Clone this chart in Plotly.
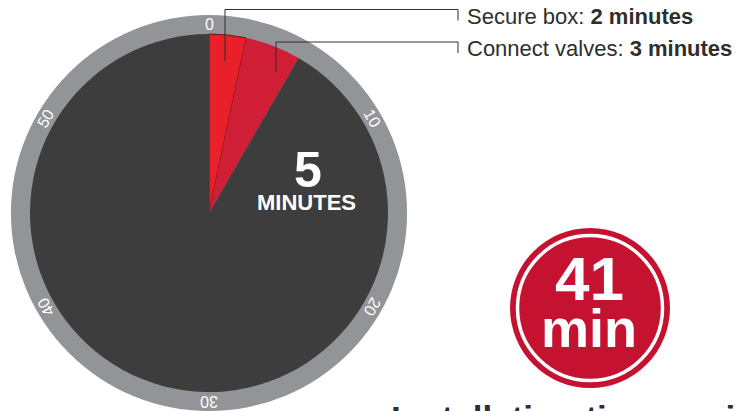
import math
import plotly.graph_objects as go

# ---------------- data ----------------
task_labels = ["Secure box", "Connect valves"]
task_minutes = [2, 3]
clock_minutes = 60
clock_ticks = [0, 10, 20, 30, 40, 50]
total_install_minutes = 41
title_text = "Installation time savings"

# ---------------- styling ----------------
W, H = 743, 411
RED1 = "#E91F2A"
RED2 = "#D01E36"
DARK = "#3D3D3D"
RING = "#929497"
BADGE = "#C41230"
TXT = "#2E2E2E"
FONT = "Liberation Sans, Arial, sans-serif"

cx, cy = 209, 213      # clock centre (px)
R_OUT, R_IN = 198, 179


def X(px):
    return px / W


def Y(py):
    return 1 - py / H


rest = clock_minutes - sum(task_minutes)
slice_vals = task_minutes + [rest]

fig = go.Figure()

# outer grey ring (full clock face)
fig.add_trace(go.Pie(
    values=[clock_minutes], labels=["clock"],
    marker=dict(colors=[RING], line=dict(width=0)),
    domain=dict(x=[X(cx - R_OUT), X(cx + R_OUT)], y=[Y(cy + R_OUT), Y(cy - R_OUT)]),
    textinfo="none", hoverinfo="skip", sort=False, showlegend=False,
))

# inner face with task slices
fig.add_trace(go.Pie(
    values=slice_vals, labels=task_labels + ["rest"],
    marker=dict(colors=[RED1, RED2, DARK],
                line=dict(width=[1, 0, 0], color=["#5a1a1a", DARK, DARK])),
    domain=dict(x=[X(cx - R_IN), X(cx + R_IN)], y=[Y(cy + R_IN), Y(cy - R_IN)]),
    direction="clockwise", rotation=0, sort=False,
    textinfo="none", hoverinfo="skip", showlegend=False,
))

annotations = []

# clock tick labels around the ring
r_lab = (R_OUT + R_IN) / 2
for t in clock_ticks:
    ang = 360 * t / clock_minutes
    a = math.radians(ang)
    px = cx + r_lab * math.sin(a)
    py = cy - r_lab * math.cos(a)
    annotations.append(dict(
        x=X(px), y=Y(py), xref="paper", yref="paper", text=str(t),
        showarrow=False, textangle=ang, xanchor="center", yanchor="middle",
        font=dict(family=FONT, size=16, color="white"),
    ))

# big total in the face
annotations.append(dict(
    x=X(308), y=Y(170), xref="paper", yref="paper",
    text="<b>%d</b>" % sum(task_minutes), showarrow=False,
    xanchor="center", yanchor="middle",
    font=dict(family=FONT, size=50, color="white"),
))
annotations.append(dict(
    x=X(306), y=Y(203), xref="paper", yref="paper",
    text="<b>MINUTES</b>", showarrow=False,
    xanchor="center", yanchor="middle",
    font=dict(family=FONT, size=22, color="white"),
))

# task labels with leader lines
label_y = [17, 49]
anchor_pts = [(225, 61), (276, 72)]
line_top = [9.5, 42]
shapes = []
for lab, m, ly, (ax, ay), lt in zip(task_labels, task_minutes, label_y, anchor_pts, line_top):
    annotations.append(dict(
        x=X(465), y=Y(ly), xref="paper", yref="paper",
        text="%s: <b>%d minutes</b>" % (lab, m), showarrow=False,
        xanchor="left", yanchor="middle",
        font=dict(family=FONT, size=22, color=TXT),
    ))
    path = "M %f %f L %f %f L %f %f L %f %f" % (
        X(ax), Y(ay), X(ax), Y(lt), X(458), Y(lt), X(458), Y(lt + 11))
    shapes.append(dict(type="path", xref="paper", yref="paper", path=path,
                       line=dict(color=TXT, width=1)))

# badge
bx, by, br = 590, 308, 80
shapes.append(dict(type="circle", xref="paper", yref="paper",
                   x0=X(bx - br), x1=X(bx + br), y0=Y(by + br), y1=Y(by - br),
                   fillcolor=BADGE, line=dict(width=0)))
rw = 72.5
shapes.append(dict(type="circle", xref="paper", yref="paper",
                   x0=X(bx - rw), x1=X(bx + rw), y0=Y(by + rw), y1=Y(by - rw),
                   fillcolor="rgba(0,0,0,0)", line=dict(color="white", width=3.5)))
annotations.append(dict(
    x=X(589), y=Y(278), xref="paper", yref="paper",
    text="<b>%d</b>" % total_install_minutes, showarrow=False,
    xanchor="center", yanchor="middle",
    font=dict(family=FONT, size=62, color="white"),
))
annotations.append(dict(
    x=X(589), y=Y(328), xref="paper", yref="paper",
    text="<b>min</b>", showarrow=False,
    xanchor="center", yanchor="middle",
    font=dict(family=FONT, size=54, color="white"),
))

# title (cut off at the bottom)
annotations.append(dict(
    x=X(389), y=Y(418), xref="paper", yref="paper",
    text="<b>%s</b>" % title_text, showarrow=False,
    xanchor="left", yanchor="middle",
    font=dict(family=FONT, size=35, color=TXT),
))

fig.update_layout(
    width=W, height=H, margin=dict(l=0, r=0, t=0, b=0),
    paper_bgcolor="white", plot_bgcolor="white",
    showlegend=False, annotations=annotations, shapes=shapes,
)

fig.write_html("out.html", config={"displayModeBar": False},
               post_script="document.body.style.margin='0';document.body.style.overflow='hidden';")
